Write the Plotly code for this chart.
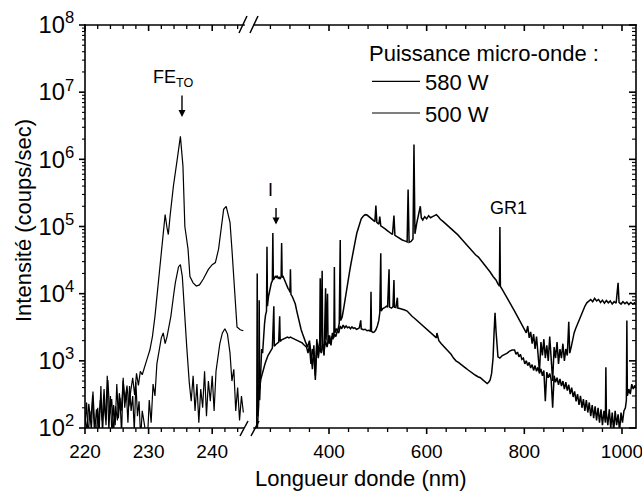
import math
import plotly.graph_objects as go

# ---------------- DATA ----------------
# Left segment (220-245 nm), 580 W
wl_left_580 = [220.0, 220.3, 220.6, 220.9, 221.2, 221.5, 221.8, 222.1, 222.4, 222.7, 223.0, 223.3, 223.6, 223.9,
               224.2, 224.5, 224.8, 225.1, 225.4, 225.7, 226.0, 226.3, 226.6, 226.9, 227.2, 227.5, 227.8, 228.1,
               228.4, 228.7, 229.0, 229.4, 229.8, 230.2, 230.6, 231.0, 231.5, 232.1, 232.6, 232.9, 233.1, 233.4,
               233.9, 234.5, 235.0, 235.4, 235.7, 236.0, 236.2, 236.5, 237.0, 237.5, 238.0, 238.6, 239.4, 240.0,
               240.5, 241.0, 241.3, 241.8, 242.2, 242.8, 243.1, 243.6, 243.9, 244.4, 244.9]
int_left_580 = [150, 90, 230, 120, 310, 80, 190, 95, 260, 130, 380, 110, 520, 160,
                270, 90, 210, 130, 330, 180, 510, 250, 430, 210, 360, 560, 310, 650,
                430, 700, 620, 850, 1100, 1450, 2300, 4600, 14500, 46000, 150000, 95000, 76000, 150000,
                400000, 1000000, 2200000, 800000, 100000, 63000, 46000, 18000, 14500, 13000, 13500, 16500, 23000, 27000,
                29000, 46000, 80000, 180000, 200000, 115000, 46000, 8000, 3200, 2900, 2800]

# Left segment (220-245 nm), 500 W
wl_left_500 = [220.0, 220.25, 220.5, 220.75, 221.0, 221.25, 221.5, 221.75, 222.0, 222.25, 222.5, 222.75, 223.0,
               223.25, 223.5, 223.75, 224.0, 224.25, 224.5, 224.75, 225.0, 225.25, 225.5, 225.75, 226.0, 226.25,
               226.5, 226.75, 227.0, 227.25, 227.5, 227.75, 228.0, 228.25, 228.5, 228.75, 229.0, 229.5, 229.8,
               230.1, 230.4, 230.7, 231.0, 231.3, 231.7, 232.0, 232.3, 232.6, 232.9, 233.2, 233.5, 233.9, 234.2,
               234.7, 235.0, 235.3, 235.6, 236.0, 236.4, 236.7, 237.0, 237.3, 237.6, 237.9, 238.2, 238.5, 238.8,
               239.1, 239.4, 239.7, 240.0, 240.3, 240.6, 240.9, 241.2, 241.6, 242.0, 242.4, 242.8, 243.1, 243.4,
               243.7, 244.0, 244.3, 244.6, 244.9]
int_left_500 = [110, 240, 70, 180, 90, 350, 120, 60, 200, 100, 420, 80, 260,
                130, 600, 90, 300, 70, 220, 110, 450, 140, 280, 80, 560, 200,
                350, 120, 420, 180, 300, 90, 480, 150, 250, 70, 180, 90, 60,
                260, 120, 450, 300, 900, 1500, 2200, 2600, 1800, 2300, 3200, 4600, 9000, 14500,
                25000, 27000, 18000, 5800, 1600, 470, 250, 600, 180, 450, 120, 380, 200, 700,
                150, 500, 250, 600, 180, 700, 1100, 1800, 2600, 3000, 2500, 1300, 500, 750,
                180, 400, 130, 300, 170]

# Right segment (250-1030 nm), 580 W
wl_right_580 = [252, 253, 254, 256, 258, 260, 262, 264, 266, 268, 270, 272, 273, 274, 276, 278, 280, 282, 284, 285,
                286, 288, 290, 292, 294, 296, 298, 300, 302, 303, 304, 306, 308, 310, 312, 314, 316, 318, 320, 321,
                322, 325, 328, 331, 334, 337, 340, 343, 346, 349, 352, 356, 360, 363, 366, 369, 372, 375, 378, 381,
                382, 383, 386, 387, 390, 393, 394, 397, 398, 401, 404, 407, 410, 411, 412, 415, 418, 421, 423, 424,
                427, 430, 433, 436, 439, 442, 445, 448, 451, 454, 457, 460, 463, 466, 470, 474, 478, 482, 486, 490,
                494, 496, 498, 502, 504, 506, 510, 515, 520, 525, 530, 533, 535, 540, 545, 550, 555, 560, 562, 564,
                568, 572, 574, 576, 580, 583, 587, 589, 592, 596, 600, 604, 608, 612, 616, 620, 624, 628, 634, 640,
                646, 652, 658, 664, 670, 676, 682, 688, 694, 700, 706, 712, 718, 724, 730, 736, 742, 746, 749, 750,
                751, 755, 760, 765, 770, 775, 780, 785, 790, 795, 800, 804, 807, 810, 813, 816, 819, 822, 825, 828,
                831, 834, 837, 840, 843, 846, 849, 852, 855, 858, 861, 864, 867, 870, 873, 876, 879, 882, 885, 888,
                891, 893, 896, 899, 902, 905, 908, 911, 914, 917, 920, 924, 928, 932, 936, 940, 944, 948, 952, 956,
                960, 964, 968, 972, 976, 980, 984, 988, 992, 994, 998, 1002, 1006, 1010, 1014, 1018, 1022, 1026, 1028.5]
int_right_580 = [90, 20000, 150, 420, 260, 900, 1500, 1300, 2800, 3600, 4800, 5500, 50000, 6500, 9000, 11000, 13000, 14500, 15500, 80000,
                 16000, 17000, 18000, 17500, 18500, 17000, 17500, 16500, 18000, 57000, 17500, 18000, 16500, 15500, 14000, 13500, 12000, 11500, 10500, 23000,
                 9800, 9000, 8000, 7000, 5500, 4300, 3500, 2900, 2500, 2100, 1900, 1600, 2000, 1300, 750, 1700, 520, 2100, 1300, 2000,
                 17000, 1400, 22000, 1600, 1200, 12000, 2000, 10000, 1800, 2400, 1700, 2600, 2200, 25000, 2600, 3000, 2800, 3600, 63000, 4000,
                 4500, 6000, 8500, 11000, 15000, 21000, 28000, 38000, 50000, 62000, 80000, 97000, 115000, 130000, 142000, 150000, 148000, 140000, 130000, 125000,
                 118000, 205000, 115000, 108000, 140000, 102000, 98000, 92000, 86000, 80000, 76000, 145000, 74000, 70000, 66000, 63000, 61000, 59000, 355000, 58000,
                 60000, 65000, 1660000, 78000, 115000, 140000, 200000, 135000, 125000, 140000, 130000, 145000, 135000, 140000, 145000, 150000, 140000, 128000, 118000, 108000,
                 100000, 92000, 84000, 75000, 67000, 60000, 54000, 48000, 42000, 38000, 35000, 31000, 27000, 24000, 21000, 18000, 16000, 14000, 13000, 98000,
                 12800, 11500, 10000, 8500, 7500, 6300, 5500, 4700, 4000, 3600, 3000, 2600, 3300, 2200, 2700, 1800, 2500, 1500, 2300, 1400,
                 700, 1900, 1200, 2100, 1100, 1700, 1000, 2300, 1200, 500, 1600, 1100, 1900, 900, 1500, 1100, 1800, 1000, 1500, 1200,
                 3800, 1300, 1600, 2200, 2600, 3000, 3400, 4000, 4500, 5000, 5500, 6500, 7300, 7800, 8200, 7600, 8500, 7800, 8200, 7400,
                 8000, 7200, 7900, 7300, 7800, 7000, 7600, 7200, 14500, 7400, 7000, 7600, 7100, 7500, 6900, 7400, 7000, 7300, 6900]

# Right segment (250-1030 nm), 500 W
wl_right_500 = [252, 254, 256, 257, 258, 260, 262, 264, 266, 268, 270, 272, 275, 278, 281, 284, 287, 288, 291, 294,
                297, 299, 300, 303, 306, 309, 312, 315, 318, 321, 324, 327, 330, 333, 336, 339, 342, 345, 348, 351,
                354, 357, 360, 363, 366, 369, 372, 375, 378, 381, 384, 387, 390, 393, 396, 399, 402, 405, 408, 411,
                414, 417, 420, 423, 426, 429, 432, 435, 438, 441, 444, 447, 450, 453, 456, 459, 462, 465, 466, 470,
                474, 478, 482, 485, 486, 487, 490, 493, 496, 499, 502, 504, 506, 507, 510, 514, 518, 520, 523, 524,
                528, 531, 533, 534, 537, 540, 541, 545, 550, 555, 560, 565, 570, 575, 580, 585, 590, 595, 600, 605,
                610, 615, 620, 621, 625, 630, 635, 640, 645, 650, 655, 660, 665, 670, 675, 680, 685, 690, 695, 700,
                705, 710, 715, 720, 724, 727, 730, 733, 736, 738, 740, 742, 744, 746, 750, 755, 760, 765, 770, 775,
                780, 783, 786, 789, 792, 795, 798, 801, 804, 807, 810, 813, 816, 819, 822, 825, 828, 831, 834, 837,
                840, 843, 846, 849, 852, 855, 858, 861, 864, 867, 870, 873, 876, 879, 882, 885, 888, 891, 894, 897,
                900, 903, 906, 909, 912, 915, 918, 921, 924, 927, 930, 933, 936, 939, 942, 945, 948, 951, 954, 957,
                960, 963, 966, 967, 968, 971, 974, 977, 980, 983, 986, 989, 992, 995, 998, 1001, 1004, 1007, 1009, 1010,
                1011, 1014, 1017, 1020, 1023, 1026, 1028.5]
int_right_500 = [70, 130, 220, 8000, 380, 520, 600, 700, 780, 850, 950, 1050, 1200, 1300, 1450, 1550, 6500, 1650, 1750, 1850,
                 1900, 4600, 1950, 2050, 2100, 2150, 2200, 2250, 2200, 2250, 2200, 2150, 2100, 2050, 2000, 1950, 1900, 1850, 1750, 1650,
                 1600, 1300, 1700, 900, 1500, 1200, 600, 1700, 1100, 1600, 1300, 1800, 1400, 2000, 1600, 2100, 1800, 2300, 2100, 2500,
                 2300, 2800, 2600, 3300, 3000, 3400, 3100, 3300, 3100, 3200, 3000, 3200, 3050, 3100, 2950, 3000, 3100, 4000, 3000, 2900,
                 2950, 2800, 2850, 2750, 10700, 2750, 2650, 2700, 2900, 3300, 4000, 5200, 40000, 5500, 6000, 6200, 6500, 6300, 23000, 6300,
                 6100, 6400, 16000, 6300, 6200, 8700, 6100, 6000, 5900, 5700, 5500, 5000, 4600, 4300, 4000, 3700, 3400, 3200, 3000, 2800,
                 2600, 2400, 2200, 2600, 2000, 1800, 1650, 1500, 1350, 1250, 1100, 1000, 950, 880, 820, 780, 730, 680, 640, 610,
                 580, 560, 520, 480, 460, 480, 520, 650, 1100, 2600, 5200, 2800, 1500, 1150, 1100, 1200, 1250, 1300, 1400, 1450,
                 1450, 1250, 1350, 1150, 1250, 1050, 1100, 900, 1000, 850, 950, 780, 880, 720, 850, 700, 800, 650, 760, 600,
                 720, 250, 680, 560, 650, 520, 200, 600, 480, 560, 440, 540, 420, 500, 380, 480, 360, 440, 320, 400,
                 290, 350, 250, 320, 220, 300, 200, 270, 180, 260, 170, 240, 150, 220, 140, 210, 130, 200, 120, 190,
                 110, 180, 120, 800, 170, 110, 190, 100, 170, 90, 180, 110, 160, 90, 170, 120, 180, 200, 260, 4000,
                 300, 380, 320, 450, 380, 430, 400]

# Axis values
left_range = [220, 245]
right_range = [246.4, 1028.7]
y_range_log = [2, 8]
left_major = [220, 230, 240]
left_minor = [v for v in range(222, 245, 2) if v % 10 != 0]
right_major = [400, 600, 800, 1000]
right_minor = [v for v in range(280, 1001, 40) if v % 200 != 0]
y_major_exp = [2, 3, 4, 5, 6, 7, 8]
y_minor_log = [e + math.log10(m) for e in range(2, 8) for m in range(2, 10)]

# ---------------- LAYOUT GEOMETRY ----------------
W, H = 642, 498
ML, MR, MT, MB = 85, 6, 25, 70
PW, PH = W - ML - MR, H - MT - MB


def px_x(px):
    return (px - ML) / PW


def px_y(py):
    return (H - MB - py) / PH


dom_left = [0.0, px_x(244)]
dom_right = [px_x(254), 1.0]

FONT = "Liberation Sans, Arial, Helvetica, sans-serif"
BLACK = "black"
CLEAR = "rgba(0,0,0,0)"

fig = go.Figure()
fig.add_trace(go.Scatter(x=wl_left_580, y=int_left_580, mode="lines", name="580 W",
                         line=dict(color=BLACK, width=1.2), xaxis="x", yaxis="y", legendgroup="a"))
fig.add_trace(go.Scatter(x=wl_left_500, y=int_left_500, mode="lines", name="500 W",
                         line=dict(color=BLACK, width=1.2), xaxis="x", yaxis="y", legendgroup="b"))
fig.add_trace(go.Scatter(x=wl_right_580, y=int_right_580, mode="lines", name="580 W", showlegend=False,
                         line=dict(color=BLACK, width=1.5), xaxis="x2", yaxis="y2", legendgroup="a"))
fig.add_trace(go.Scatter(x=wl_right_500, y=int_right_500, mode="lines", name="500 W", showlegend=False,
                         line=dict(color=BLACK, width=1.5), xaxis="x2", yaxis="y2", legendgroup="b"))

tickfont = dict(family=FONT, size=19, color=BLACK)
base = dict(showgrid=False, zeroline=False, automargin=False, showline=False,
            ticks="outside", ticklen=6, tickcolor=CLEAR)

fig.update_layout(
    width=W, height=H,
    margin=dict(l=ML, r=MR, t=MT, b=MB, autoexpand=False),
    paper_bgcolor="white", plot_bgcolor="white",
    font=dict(family=FONT, color=BLACK),
    xaxis=dict(domain=dom_left, range=left_range, anchor="y", tickmode="array", tickvals=left_major,
               tickfont=tickfont, ticklabeloverflow="allow", **base),
    xaxis2=dict(domain=dom_right, range=right_range, anchor="y2", tickmode="array", tickvals=right_major,
                tickfont=tickfont, ticklabeloverflow="allow", **base),
    yaxis=dict(type="log", range=y_range_log, anchor="x", side="left", dtick=1,
               exponentformat="power", showexponent="all", tickfont=tickfont, **base),
    yaxis2=dict(type="log", range=y_range_log, anchor="x2", side="right", dtick=1,
                showticklabels=False, **base),
    legend=dict(x=px_x(367), y=px_y(32), xanchor="left", yanchor="top",
                bgcolor=CLEAR, borderwidth=0,
                font=dict(family=FONT, size=22, color=BLACK),
                title=dict(text="Puissance micro-onde :", font=dict(family=FONT, size=22, color=BLACK)),
                tracegroupgap=0, itemwidth=48),
    showlegend=True,
)


# ---- frame and ticks as thin filled bars (positions derived from axis domains / ranges) ----
def bar(x0, x1, y0, y1):
    fig.add_shape(type="rect", xref="paper", yref="paper",
                  x0=min(x0, x1), x1=max(x0, x1), y0=min(y0, y1), y1=max(y0, y1),
                  fillcolor=BLACK, line=dict(width=0), layer="above")


def vbar(p, y0, y1, w):
    bar(p - w / 2 / PW, p + w / 2 / PW, y0, y1)


def hbar(p, x0, x1, w):
    bar(x0, x1, p - w / 2 / PH, p + w / 2 / PH)


def slash(x0, x1, y0, y1):
    fig.add_shape(type="line", xref="paper", yref="paper", x0=x0, x1=x1, y0=y0, y1=y1,
                  line=dict(color=BLACK, width=1.5), layer="above")


def xpos(v, dom, rng):
    return dom[0] + (v - rng[0]) / (rng[1] - rng[0]) * (dom[1] - dom[0])


def ypos(lv):
    return (lv - y_range_log[0]) / (y_range_log[1] - y_range_log[0])


LW = 1.6
ex, ey = LW / 2 / PW, LW / 2 / PH
# axis lines
vbar(0, -ey, 1 + ey, LW)
vbar(1, -ey, 1 + ey, LW)
for dom in (dom_left, dom_right):
    hbar(0, dom[0] - ex, dom[1], LW)
    hbar(1, dom[0] - ex, dom[1] + ex, LW)

# x ticks: outward at the bottom, inward at the top
for dom, rng, majors, minors in [(dom_left, left_range, left_major, left_minor),
                                 (dom_right, right_range, right_major, right_minor)]:
    for v in majors:
        p = xpos(v, dom, rng)
        vbar(p, 0, -6 / PH, LW)
        vbar(p, 1, 1 - 6 / PH, LW)
    for v in minors:
        p = xpos(v, dom, rng)
        vbar(p, 0, -4 / PH, 1.3)
        vbar(p, 1, 1 - 4 / PH, 1.3)

# y ticks: outward on the left, inward on the right
for e in y_major_exp:
    p = ypos(e)
    hbar(p, 0, -6 / PW, LW)
    hbar(p, 1, 1 - 7 / PW, LW)
for lv in y_minor_log:
    p = ypos(lv)
    hbar(p, 0, -3 / PW, 1.1)
    hbar(p, 1, 1 - 4 / PW, 1.1)

# axis-break marks (//) at the top and bottom axes
for (x0, x1) in [(239, 247), (250, 258)]:
    slash(px_x(x0), px_x(x1), px_y(33), px_y(16))
    slash(px_x(x0 + 1), px_x(x1 + 1), px_y(436), px_y(421))

# axis titles (centred like the reference)
title_font = dict(family=FONT, size=22, color=BLACK)
fig.add_annotation(text="Longueur donde (nm)", xref="paper", yref="paper", x=0.5, y=px_y(478),
                   xanchor="center", yanchor="middle", showarrow=False, font=title_font)
fig.add_annotation(text="Intensité (coups/sec)", xref="paper", yref="paper", x=px_x(23), y=px_y(221),
                   xanchor="center", yanchor="middle", textangle=-90, showarrow=False, font=title_font)

# peak labels and arrows
ann_font = dict(family=FONT, size=18, color=BLACK)
fig.add_annotation(text="FE<sub>TO</sub>", xref="x", yref="y", x=233.8, y=7.2,
                   showarrow=False, font=ann_font)
fig.add_annotation(text=" ", xref="x", yref="y", x=235.25, y=6.63, ax=0, ay=-24,
                   showarrow=True, arrowhead=2, arrowsize=1, arrowwidth=1.4, arrowcolor=BLACK,
                   font=dict(size=2))
fig.add_annotation(text="I", xref="x2", yref="y2", x=279.5, y=5.54,
                   showarrow=False, font=ann_font)
fig.add_annotation(text=" ", xref="x2", yref="y2", x=291.5, y=5.03, ax=0, ay=-19,
                   showarrow=True, arrowhead=2, arrowsize=1, arrowwidth=1.4, arrowcolor=BLACK,
                   font=dict(size=2))
fig.add_annotation(text="GR1", xref="x2", yref="y2", x=768.6, y=5.28,
                   showarrow=False, font=ann_font)

# remove the default page margin so the figure sits at the window's top-left corner
fig.write_html("out.html", post_script="document.body.style.margin='0px';",
               config=dict(displayModeBar=False))
